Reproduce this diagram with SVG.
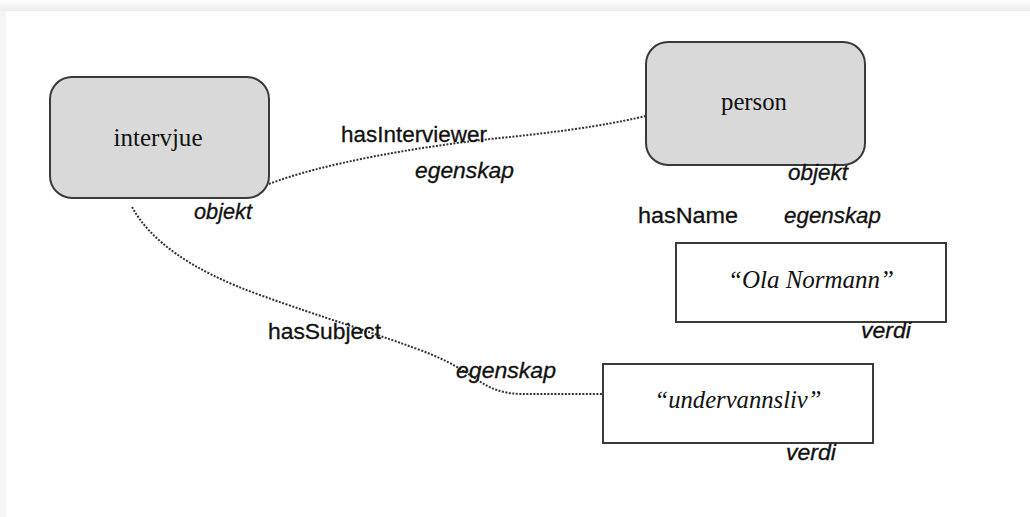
<svg xmlns="http://www.w3.org/2000/svg" width="1030" height="517" viewBox="0 0 1030 517">
  <defs>
    <linearGradient id="topShade" x1="0" y1="0" x2="0" y2="1">
      <stop offset="0" stop-color="#ffffff"/>
      <stop offset="1" stop-color="#ececec"/>
    </linearGradient>
    <style>
      .obj { fill: #d9d9d9; stroke: #3a3a3a; stroke-width: 2; }
      .val { fill: #ffffff; stroke: #3a3a3a; stroke-width: 2; }
      .serif { font-family: "Liberation Serif", "Times New Roman", serif; font-size: 25px; fill: #111; }
      .serifi { font-family: "Liberation Serif", "Times New Roman", serif; font-size: 25px; font-style: italic; fill: #111; }
      .lab { font-family: "Liberation Sans", Arial, sans-serif; font-size: 22px; fill: #111; stroke: #111; stroke-width: 0.3; }
      .labi { font-family: "Liberation Sans", Arial, sans-serif; font-size: 22px; font-style: italic; fill: #111; stroke: #111; stroke-width: 0.3; }
      .edge { fill: none; stroke: #333; stroke-width: 2; stroke-dasharray: 2 1.5; }
    </style>
  </defs>

  <rect x="0" y="0" width="1030" height="517" fill="#f5f5f5"/>
  <rect x="0" y="0" width="1030" height="11" fill="url(#topShade)"/>
  <rect x="6" y="11" width="1024" height="506" fill="#ffffff"/>

  <g id="connectors">
    <path class="edge" d="M269,184 C320,164 420,146 500,138 S620,122 646,116"/>
    <path class="edge" d="M132,207 C150,240 190,270 260,295 S360,328 420,350 S478,392 520,394 L603,394"/>
  </g>

  <g id="intervjue">
    <rect class="obj" x="50" y="77" width="219" height="121" rx="22" ry="22"/>
    <text class="serif" x="158" y="146" text-anchor="middle" textLength="89" lengthAdjust="spacingAndGlyphs">intervjue</text>
  </g>

  <g id="person">
    <rect class="obj" x="646" y="42" width="219" height="123" rx="22" ry="22"/>
    <text class="serif" x="754" y="110" text-anchor="middle" textLength="66" lengthAdjust="spacingAndGlyphs">person</text>
  </g>

  <g id="olanormann">
    <rect class="val" x="676" y="243" width="270" height="79"/>
    <text class="serifi" x="811" y="288" text-anchor="middle" textLength="166" lengthAdjust="spacingAndGlyphs">“Ola Normann”</text>
  </g>

  <g id="undervannsliv">
    <rect class="val" x="603" y="364" width="270" height="79"/>
    <text class="serifi" x="738" y="408" text-anchor="middle" textLength="167" lengthAdjust="spacingAndGlyphs">“undervannsliv”</text>
  </g>

  <g id="labels">
    <text class="lab" x="341" y="142" textLength="146" lengthAdjust="spacingAndGlyphs">hasInterviewer</text>
    <text class="labi" x="415" y="178" textLength="99" lengthAdjust="spacingAndGlyphs">egenskap</text>
    <text class="labi" x="194" y="219" textLength="58" lengthAdjust="spacingAndGlyphs">objekt</text>
    <text class="labi" x="788" y="180" textLength="60" lengthAdjust="spacingAndGlyphs">objekt</text>
    <text class="lab" x="638" y="223" textLength="100" lengthAdjust="spacingAndGlyphs">hasName</text>
    <text class="labi" x="784" y="223" textLength="97" lengthAdjust="spacingAndGlyphs">egenskap</text>
    <text class="labi" x="861" y="338" textLength="50" lengthAdjust="spacingAndGlyphs">verdi</text>
    <text class="lab" x="268" y="339" textLength="113" lengthAdjust="spacingAndGlyphs">hasSubject</text>
    <text class="labi" x="456" y="378" textLength="100" lengthAdjust="spacingAndGlyphs">egenskap</text>
    <text class="labi" x="786" y="460" textLength="50" lengthAdjust="spacingAndGlyphs">verdi</text>
  </g>
</svg>
